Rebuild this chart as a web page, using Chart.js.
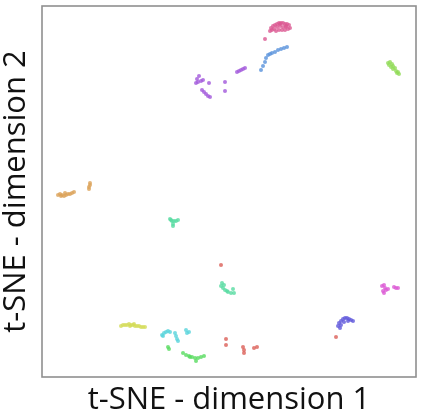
<!DOCTYPE html>
<html>
<head>
<meta charset="utf-8">
<script src="https://cdn.jsdelivr.net/npm/chart.js@4/dist/chart.umd.min.js"></script>
<style>
  html, body { margin: 0; padding: 0; background: #fff; }
  #wrap { width: 423px; height: 418px; }
</style>
</head>
<body>
<div id="wrap"><canvas id="tsneChart"></canvas></div>
<script>
// --- t-SNE embedding (12 classes) ---
const classRed = [[226,339],[226,345],[244,350],[243,347],[254,348],[257,347],[244,353],[221,265],[336,337]];
const classOrange = [[58,195],[60,194],[62,195],[64,196],[66,195],[68,194],[70,194],[72,193],[74,192],[61,196],[65,193],[90,183],[90,185],[89,187],[89,189]];
const classYellow = [[121,326],[123,325],[125,325],[127,325],[129,324],[131,325],[133,325],[135,326],[137,326],[139,326],[141,327],[143,327],[145,327],[130,326],[134,324]];
const classLime = [[388,63],[390,62],[392,64],[391,67],[393,66],[395,68],[396,71],[398,72],[399,74],[397,73],[389,65],[393,69]];
const classGreen = [[168,347],[169,349],[183,353],[186,355],[189,356],[192,357],[195,358],[198,358],[201,357],[204,356],[196,361],[190,357]];
const classMint = [[170,219],[172,221],[174,221],[176,221],[178,220],[173,224],[173,226],[171,220],[222,283],[221,286],[223,288],[225,290],[228,292],[231,293],[234,293],[233,289],[224,285],[227,291]];
const classCyan = [[162,335],[164,333],[166,332],[168,331],[170,332],[175,333],[176,336],[177,339],[178,341],[163,336],[186,330],[187,333],[189,332]];
const classBlue = [[261,70],[263,66],[265,62],[266,58],[268,55],[270,54],[272,53],[275,52],[278,50],[281,49],[284,48],[287,47]];
const classIndigo = [[338,326],[339,323],[341,321],[343,319],[345,318],[347,318],[349,319],[351,320],[353,321],[341,325],[344,322],[348,321],[340,328]];
const classPurple = [[197,79],[199,76],[198,82],[201,81],[203,80],[196,83],[209,83],[225,82],[225,91],[202,90],[204,92],[206,94],[208,96],[210,97],[237,72],[239,71],[241,70],[243,69],[245,68]];
const classMagenta = [[382,286],[384,285],[385,288],[383,291],[386,290],[388,289],[394,287],[396,288],[398,288],[384,293]];
const classPink = [[270,31],[271,28],[273,26],[275,25],[277,24],[279,23],[281,23],[283,23],[285,24],[287,24],[289,25],[290,28],[274,29],[277,27],[280,26],[283,27],[286,27],[288,29],[276,31],[279,30],[282,30],[285,30],[272,30],[280,24],[286,26],[265,39]];

const classes = [classRed, classOrange, classYellow, classLime, classGreen, classMint,
                 classCyan, classBlue, classIndigo, classPurple, classMagenta, classPink];
const palette = ['#db5f57','#dba157','#d3db57','#91db57','#57db5f','#57dba1',
                 '#57d3db','#5791db','#5f57db','#a157db','#db57d3','#db5791'];

// axis limits in the same units the points were read in
const xLimits = [42, 416];
const yLimits = [6, 377];

// draws the full box around the plot area
const frameBox = {
    id: 'frameBox',
    afterDraw(chart) {
        const a = chart.chartArea, ctx = chart.ctx;
        ctx.save();
        ctx.strokeStyle = '#8f8f8f';
        ctx.lineWidth = 1.6;
        ctx.strokeRect(a.left, a.top, a.right - a.left, a.bottom - a.top);
        ctx.restore();
    }
};

const titleFont = { family: "'Open Sans', sans-serif", size: 31, lineHeight: 1 };

new Chart(document.getElementById('tsneChart'), {
    type: 'scatter',
    data: {
        datasets: classes.map((pts, i) => ({
            data: pts.map(p => ({ x: p[0], y: p[1] })),
            backgroundColor: palette[i] + 'cc',
            borderWidth: 0,
            pointRadius: 2
        }))
    },
    options: {
        responsive: true,
        maintainAspectRatio: false,
        animation: false,
        layout: { padding: { top: 6, right: 7, left: 0, bottom: 0 } },
        plugins: { legend: { display: false }, tooltip: { enabled: false } },
        scales: {
            x: {
                min: xLimits[0], max: xLimits[1],
                ticks: { display: false },
                grid: { display: false, drawTicks: false },
                border: { display: false },
                title: { display: true, text: 't-SNE - dimension 1', color: '#111', font: titleFont, padding: { top: 8, bottom: 2 } }
            },
            y: {
                min: yLimits[0], max: yLimits[1],
                reverse: true,
                ticks: { display: false },
                grid: { display: false, drawTicks: false },
                border: { display: false },
                title: { display: true, text: 't-SNE - dimension 2', color: '#111', font: titleFont, padding: { top: 1, bottom: 10 } }
            }
        }
    },
    plugins: [frameBox]
});
</script>
</body>
</html>
